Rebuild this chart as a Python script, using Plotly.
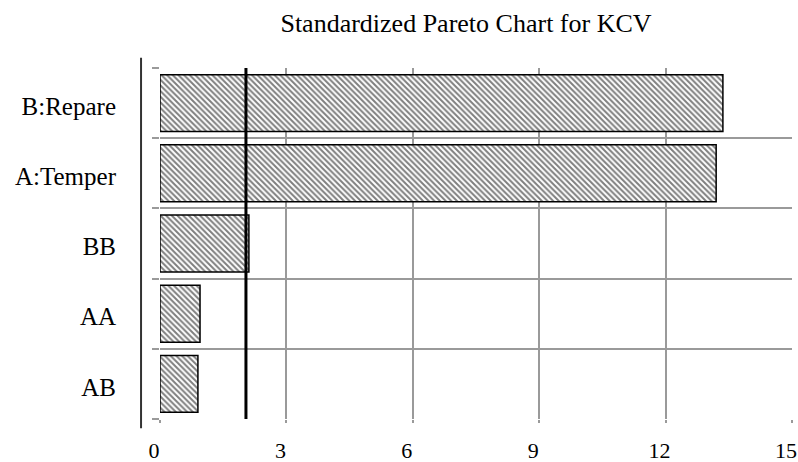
import plotly.graph_objects as go

categories = ["AB", "AA", "BB", "A:Temper", "B:Repare"]
effects = [0.9, 0.95, 2.11, 13.2, 13.36]
critical_value = 2.04
x_ticks = [0, 3, 6, 9, 12, 15]

positions = list(range(len(categories)))
boundaries = [p - 0.5 for p in positions] + [positions[-1] + 0.5]

FONT = "Liberation Serif, Times New Roman, serif"
GRID = "#9a9a9a"

fig = go.Figure()
fig.add_trace(go.Bar(
    x=effects, y=positions, orientation="h", width=0.81,
    marker=dict(color="white",
                line=dict(color="black", width=1.5),
                pattern=dict(shape="\\", fgcolor="black", bgcolor="white",
                             size=4, solidity=0.5)),
    hoverinfo="x+text", text=categories, textposition="none",
))

fig.add_vline(x=critical_value, line=dict(color="black", width=3), layer="above")

# detached left axis line
fig.add_shape(type="line", xref="paper", yref="paper",
              x0=-0.030, x1=-0.030, y0=-0.026, y1=1.029,
              line=dict(color="#333333", width=2))

fig.update_layout(
    width=798, height=462,
    margin=dict(l=160, r=6, t=68, b=43, autoexpand=False),
    paper_bgcolor="white", plot_bgcolor="white",
    showlegend=False,
    font=dict(family=FONT, size=22, color="black"),
    title=dict(text="Standardized Pareto Chart for KCV",
               x=466 / 798, xanchor="center", y=1 - 23 / 462, yanchor="middle",
               font=dict(family=FONT, size=26, color="black")),
    xaxis=dict(range=[0, 15], tickvals=x_ticks, showgrid=True, automargin=False,
               gridcolor=GRID, gridwidth=1.5, zeroline=False, showline=False,
               ticks="outside", ticklen=3, tickcolor=GRID, tickwidth=1.5,
               ticklabelshift=-6, ticklabelstandoff=9,
               tickfont=dict(family=FONT, size=22)),
    yaxis=dict(range=[-0.5, len(categories) - 0.5], automargin=False,
               tickvals=positions, ticktext=categories,
               showgrid=False, zeroline=False, showline=False,
               ticks="", ticklabelstandoff=43, ticklabelshift=3,
               tickfont=dict(family=FONT, size=25),
               minor=dict(tickvals=boundaries, showgrid=True,
                          gridcolor=GRID, gridwidth=1.5,
                          ticks="outside", ticklen=7, tickcolor=GRID, tickwidth=1.5)),
)

fig.write_html(
    "out.html",
    config={"displayModeBar": False},
    post_script="document.body.style.margin='0';document.body.style.padding='0';"
                "document.documentElement.style.overflow='hidden';",
)
